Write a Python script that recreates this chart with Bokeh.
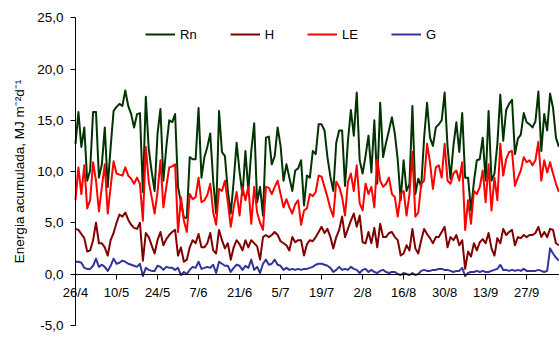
import pandas as pd
from bokeh.plotting import figure
from bokeh.models import (Range1d, FixedTicker, CustomJSTickFormatter, Legend,
                          LegendItem, Label, ColumnDataSource)
from bokeh.embed import file_html
from bokeh.resources import INLINE

# ---- data (MJ m-2 d-1), daily from 26/4 ----
rn = [12.7, 15.8, 12.4, 14.3, 9.1, 10.1, 15.8, 15.8, 9.4, 10.7,
      14.3, 8.5, 12.4, 15.9, 16.3, 16.6, 16.4, 17.9, 16.4, 15.6,
      14.3, 15.6, 15.7, 8.0, 17.3, 12.2, 10.0, 8.1, 13.7, 16.1,
      9.1, 12.4, 15.0, 14.8, 15.6, 8.5, 7.0, 5.5, 5.5, 11.4,
      11.2, 11.2, 16.2, 9.4, 11.4, 12.4, 13.7, 9.1, 5.9, 15.9,
      11.9, 11.5, 8.1, 5.9, 9.1, 12.8, 10.0, 7.7, 12.0, 8.1,
      12.0, 14.7, 7.0, 8.5, 5.7, 13.3, 13.4, 10.7, 11.5, 14.3,
      12.5, 9.1, 10.7, 9.4, 8.1, 10.1, 10.3, 11.1, 6.7, 9.6,
      9.4, 12.0, 11.7, 14.6, 14.6, 14.0, 11.4, 9.5, 8.1, 12.8,
      14.0, 14.0, 8.6, 13.0, 16.0, 13.5, 17.7, 11.1, 9.8, 11.5,
      13.5, 9.9, 15.0, 8.8, 16.7, 11.4, 12.8, 14.0, 15.3, 13.7,
      11.1, 7.2, 11.1, 8.1, 8.8, 16.4, 7.8, 9.3, 8.5, 13.3,
      16.7, 13.3, 12.5, 14.3, 14.6, 15.0, 17.7, 12.4, 9.3, 12.5,
      14.8, 11.9, 15.7, 9.4, 9.4, 6.2, 9.0, 11.1, 11.2, 13.3,
      9.1, 15.9, 9.1, 9.8, 12.7, 17.5, 13.0, 16.0, 16.6, 17.0,
      11.7, 13.2, 13.6, 15.7, 14.8, 14.6, 14.3, 14.9, 17.8, 12.0,
      15.6, 14.0, 17.6, 16.2, 13.3, 12.4]

h = [4.4, 4.3, 3.9, 3.5, 2.2, 2.3, 3.3, 5.0, 3.0, 3.0,
     2.6, 1.8, 3.3, 4.0, 5.0, 5.8, 5.6, 6.0, 5.3, 4.8,
     4.5, 4.4, 5.0, 1.3, 4.0, 3.6, 2.8, 2.0, 3.3, 4.1,
     2.8, 3.4, 3.8, 4.1, 4.3, 1.8, 2.6, 1.2, 1.4, 2.6,
     3.3, 3.0, 3.9, 2.6, 2.6, 3.0, 4.0, 2.3, 2.0, 4.3,
     3.3, 2.5, 3.0, 1.4, 2.6, 3.3, 2.9, 2.3, 3.3, 2.6,
     3.3, 3.0, 2.7, 1.4, 3.6, 3.8, 3.6, 3.8, 4.1, 3.8,
     3.2, 3.0, 2.8, 2.3, 3.6, 3.1, 3.3, 3.3, 1.8, 2.9,
     3.3, 3.2, 3.6, 4.1, 4.6, 4.0, 4.4, 3.6, 2.5, 3.6,
     4.3, 5.6, 3.6, 4.4, 5.2, 5.9, 4.6, 5.7, 3.1, 3.0,
     4.1, 3.0, 4.5, 2.6, 4.9, 3.6, 3.6, 4.0, 4.1, 3.6,
     3.3, 1.8, 2.0, 2.8, 2.3, 4.4, 2.5, 2.0, 3.3, 4.4,
     3.9, 3.5, 3.0, 3.6, 3.6, 4.1, 4.6, 2.6, 3.6, 3.3,
     3.8, 2.8, 3.3, 0.5, 2.2, 1.7, 3.0, 2.3, 3.1, 3.4,
     3.0, 4.0, 2.5, 1.8, 3.5, 3.0, 4.4, 3.8, 4.1, 4.3,
     2.8, 3.6, 3.5, 3.8, 3.6, 3.8, 3.8, 4.0, 4.6, 3.6,
     4.1, 3.6, 4.4, 4.3, 3.0, 2.8]

le = [7.2, 10.4, 7.8, 10.6, 6.4, 7.2, 10.9, 9.1, 6.1, 8.5,
      10.7, 5.9, 8.5, 11.0, 9.8, 9.7, 9.6, 10.4, 9.6, 9.3,
      8.8, 9.4, 8.8, 5.2, 12.4, 9.0, 7.5, 5.9, 8.0, 11.1,
      6.5, 8.5, 10.4, 10.5, 10.7, 4.1, 7.5, 5.2, 4.1, 7.8,
      7.3, 7.5, 9.4, 7.0, 7.2, 7.7, 8.8, 6.0, 4.8, 8.3,
      8.1, 9.1, 7.0, 4.6, 6.5, 8.0, 5.7, 8.5, 7.2, 8.5,
      4.9, 8.5, 6.0, 5.0, 4.3, 8.5, 8.4, 7.8, 8.5, 9.1,
      7.8, 6.5, 7.3, 6.5, 5.9, 6.8, 7.2, 4.8, 6.2, 6.4,
      7.8, 7.6, 8.0, 9.6, 9.5, 8.5, 7.5, 6.4, 5.6, 9.0,
      8.5, 7.5, 5.7, 9.0, 9.8, 8.1, 10.6, 6.9, 6.2, 8.8,
      7.8, 8.5, 6.5, 11.2, 9.1, 8.5, 8.8, 9.4, 7.8, 7.5,
      5.6, 7.8, 8.1, 5.7, 7.8, 11.9, 5.6, 6.0, 8.8, 9.1,
      12.7, 10.9, 8.3, 10.4, 10.6, 9.4, 12.7, 9.1, 8.8, 9.8,
      10.1, 9.1, 10.9, 4.3, 7.2, 4.9, 8.1, 7.8, 8.5, 10.1,
      7.0, 10.7, 6.2, 9.4, 7.2, 12.7, 9.6, 11.2, 11.9, 12.0,
      8.6, 9.4, 10.1, 11.4, 10.9, 11.1, 10.6, 11.1, 12.9, 9.1,
      11.1, 9.9, 10.9, 9.8, 8.8, 8.0]

g = [1.2, 1.2, 1.1, 0.6, 0.5, 0.5, 0.8, 1.5, 0.7, 0.9,
     0.7, 0.3, 0.8, 1.5, 1.0, 1.1, 1.3, 1.2, 1.0, 0.9,
     0.8, 0.7, 1.0, -0.2, 0.6, 0.4, 0.3, 0.3, 0.8, 0.7,
     0.4, 0.7, 0.6, 0.6, 0.4, 0.6, -0.1, 0.2, 0.0, 0.4,
     0.7, 0.6, 1.2, 0.5, 0.6, 0.7, 0.6, 0.9, 0.1, 1.2,
     1.0, 0.8, 0.8, 0.2, 0.6, 0.9, 0.8, 0.4, 0.8, 0.6,
     1.4, 0.4, 0.7, 0.1, 1.0, 1.4, 0.9, 1.0, 1.4, 0.9,
     0.8, 0.4, 0.6, 0.4, 0.5, 0.4, 0.5, 0.4, 0.5, 0.5,
     0.6, 0.7, 0.9, 1.0, 1.0, 0.9, 0.8, 0.6, 0.2, 0.4,
     0.7, 0.4, 0.5, 0.4, 0.7, 0.5, 0.4, 0.1, 0.4, 0.5,
     0.2, 0.4, 0.2, 0.1, 0.3, 0.4, 0.2, 0.1, 0.2, 0.2,
     0.0, -0.1, 0.1, 0.0, -0.1, 0.1, -0.1, 0.0, 0.3, 0.4,
     0.3, 0.3, 0.4, 0.4, 0.5, 0.5, 0.4, 0.4, 0.3, 0.2,
     0.3, 0.3, 0.6, -0.2, 0.1, 0.2, 0.2, 0.3, 0.2, 0.3,
     0.2, 0.2, 0.3, 0.4, 0.5, 0.9, 0.4, 0.4, 0.3, 0.4,
     0.3, 0.4, 0.3, 0.5, 0.3, 0.3, 0.3, 0.3, 0.4, 0.3,
     0.2, 0.3, 2.5, 2.0, 1.6, 1.3]

start_date = "2006-04-26"
tick_labels = ["26/4", "10/5", "24/5", "7/6", "21/6", "5/7", "19/7",
               "2/8", "16/8", "30/8", "13/9", "27/9"]
y_ticks = [-5, 0, 5, 10, 15, 20, 25]
series_names = ["Rn", "H", "LE", "G"]
series_colors = ["#003300", "#800000", "#FF0000", "#333399"]

dates = pd.date_range(start_date, periods=len(rn), freq="D")
src = ColumnDataSource(dict(date=dates, Rn=rn, H=h, LE=le, G=g))

year = dates[0].year
tick_dates = [pd.Timestamp(year, int(s.split("/")[1]), int(s.split("/")[0]))
              for s in tick_labels]
tick_ms = [t.value / 1e6 for t in tick_dates]

x_start = dates[0]
x_end = dates[-1] + pd.Timedelta(hours=5)
# frame covers the whole canvas; the axes are pinned inside it
x_lead = pd.Timedelta(days=25.6)
y_min, y_max = y_ticks[0], y_ticks[-1]
y_pad = 1.0

FONT = "Liberation Sans"

p = figure(width=559, height=356, x_axis_type="datetime",
           output_backend="svg", toolbar_location=None,
           x_range=Range1d(x_start - x_lead, x_end),
           y_range=Range1d(y_min - y_pad, y_max + y_pad),
           min_border_left=0, min_border_right=0, min_border_top=7,
           min_border_bottom=21)
p.outline_line_color = None
p.grid.visible = False
p.background_fill_color = "white"

renderers = []
for name, col in zip(series_names, series_colors):
    r = p.line(x="date", y=name, source=src, line_color=col, line_width=2,
               line_join="round")
    renderers.append(r)

# x axis crossing at y = 0
xa = p.xaxis[0]
xa.fixed_location = 0
xa.bounds = (x_start.value / 1e6, x_end.value / 1e6)
xa.ticker = FixedTicker(ticks=tick_ms)
xa.formatter = CustomJSTickFormatter(code="""
const d = new Date(tick);
return d.getUTCDate() + "/" + (d.getUTCMonth() + 1);
""")
xa.major_tick_out = 5
xa.major_tick_in = 0
xa.minor_tick_line_color = None
xa.axis_line_color = "black"
xa.major_tick_line_color = "black"
xa.major_label_standoff = 6
xa.major_label_text_font = FONT
xa.major_label_text_font_size = "13px"
xa.major_label_text_color = "black"

# y axis at the first date
ya = p.yaxis[0]
ya.fixed_location = x_start.value / 1e6
ya.bounds = (y_min, y_max)
ya.ticker = FixedTicker(ticks=y_ticks)
ya.formatter = CustomJSTickFormatter(code="return tick.toFixed(1).replace('.', ',');")
ya.major_tick_out = 5
ya.major_tick_in = 0
ya.minor_tick_line_color = None
ya.axis_line_color = "black"
ya.major_tick_line_color = "black"
ya.major_label_standoff = 7
ya.major_label_text_font = FONT
ya.major_label_text_font_size = "13.5px"
ya.major_label_text_color = "black"
ya.axis_label = "Energia acumulada, MJ m⁻²d⁻¹"
ya.axis_label_text_font = FONT
ya.axis_label_text_font_size = "13.5px"
ya.axis_label_text_font_style = "normal"
ya.axis_label_text_color = "black"
ya.axis_label_standoff = 7

legend = Legend(items=[LegendItem(label=n, renderers=[r])
                       for n, r in zip(series_names, renderers)],
                orientation="horizontal", location=(145, 291),
                glyph_width=30, glyph_height=20, label_standoff=5,
                label_width=0, label_height=20, spacing=33, padding=0, margin=0,
                border_line_alpha=0, background_fill_alpha=0,
                label_text_font=FONT, label_text_font_size="13px",
                label_text_color="black")
p.add_layout(legend)

p.add_layout(Label(x=320, y=-13, x_units="screen", y_units="screen",
                   text="Data", text_align="center", text_baseline="middle",
                   text_font=FONT, text_font_size="13px", text_color="black"))

open("out.html", "w").write(file_html(p, INLINE))
